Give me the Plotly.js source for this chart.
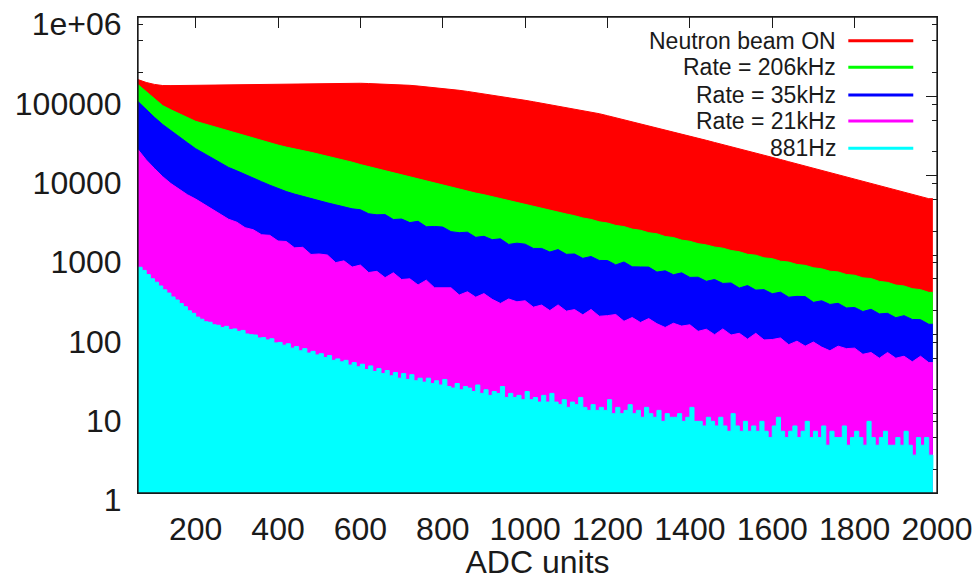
<!DOCTYPE html>
<html>
<head>
<meta charset="utf-8">
<script src="https://cdn.plot.ly/plotly-3.0.1.min.js"></script>
<style>html,body{margin:0;padding:0;background:#fff;}#chart{width:980px;height:580px;}</style>
</head>
<body>
<div id="chart"></div>
<script>
// ---- Data (histogram counts per ADC bin) ----
const seriesNames = ['Neutron beam ON', 'Rate = 206kHz', 'Rate = 35kHz', 'Rate = 21kHz', '881Hz'];
const seriesColors = ['#ff0000', '#00ff00', '#0000ff', '#ff00ff', '#00ffff'];

// coarse bins: start 60, width 20 (red, green, blue, magenta)
const coarseStart = 60, coarseWidth = 20;
// fine bins: start 60, width 10 (cyan)
const fineStart = 60, fineWidth = 10;
const dataEnd = 1990;

const beamOn = [162600,149600,141300,136800,136500,136900,136600,137000,137100,137700,
  138400,139000,139600,140300,140900,141600,142200,142900,143500,142600,
  143200,144200,144900,145500,146600,146900,146900,146200,144900,143900,
  142900,141600,140300,137700,134900,132100,129100,125900,122700,119100,
  115300,111400,107600,104000,100500,96600,92900,89100,85500,82000,
  78700,75300,71900,68900,65800,63000,60400,57000,53800,50700,
  47900,45100,42600,40100,37800,35600,33500,31500,29700,27900,
  26200,24700,23200,21800,20500,19200,18100,17000,16000,15000,
  14100,13200,12400,11700,11000,10300,9700,9120,8570,8050,
  7570,7110,6680,6270,5860,5480,5130];

const rate206k = [140600,114800,93300,76400,67600,60300,53700,48400,45200,42200,
  39400,36100,33900,31600,29500,27500,25700,24300,22900,21900,
  20900,19700,18600,17600,16600,15700,14800,13800,13000,12200,
  11500,10800,10200,9550,9020,8510,8040,7590,7160,6760,
  6380,6030,5750,5430,5130,4880,4580,4370,4100,3930,
  3650,3500,3290,3130,2930,2810,2620,2530,2360,2280,
  2120,2050,1910,1850,1710,1660,1540,1490,1390,1340,
  1260,1220,1140,1100,1020,995,920,900,835,815,
  760,740,690,670,625,612,568,556,515,505,
  465,452,418,407,376,366,338];

const rate35k = [85900,67600,54300,44100,36700,30900,26000,21900,19100,16600,
  14500,12700,11500,10300,9330,8410,7590,6840,6310,5860,
  5470,5130,4820,4540,4290,4050,3820,3720,3310,3210,
  3230,2800,2840,2560,2660,2270,2290,2250,1970,1910,
  1940,1670,1720,1560,1600,1360,1410,1370,1210,1210,
  1090,1170,1020,1030,907,958,854,851,750,817,
  709,707,704,609,632,564,596,522,525,466,
  491,438,444,383,412,361,366,325,340,294,
  301,299,253,265,238,246,215,218,194,207,
  181,184,162,172,154,153,134];

const rate21k = [21300,15800,12300,9710,7940,6760,5750,5070,4370,3800,
  3270,2820,2590,2210,2080,1800,1770,1500,1480,1230,
  1250,1015,1030,998,801,844,704,747,601,622,
  518,597,491,501,419,482,386,383,386,313,
  344,294,326,276,245,279,257,265,220,234,
  199,235,196,205,176,206,169,172,178,146,
  163,141,158,136,122,138,127,132,109,116,
  99,117,98,103,87,103,85,86,90,74,
  82,71,80,69,62,71,66,67,56,59,
  50,59,50,53,45,53,44];

const rate881 = [700,640,566,502,454,407,364,331,296,271,
  244,223,198,184,165,155,144,142,132,130,
  122,126,115,117,109,112,101,99,98,90,
  91,85,88,78,79,73,76,67,70,62,
  66,58,61,55,57,51,54,47,49,45,
  47,41,44,39,42,36,40,34,37,32,
  35,30,33,28,32,27,31,26,28,25,
  28,24,26,23,27,22,21,24,20,22,
  21,19,23,18,20,17,19,18,22,16,
  18,16,17,15,19,15,16,14,17,14,
  18,14,13,15,12,14,13,16,12,11,
  13,11,12,11,15,10,12,10,11,13,
  10,11,9,12,10,9,11,8,10,9,
  9,10,8,9,12,8,8,7,9,8,
  7,9,7,6,10,7,6,8,6,7,
  6,8,6,5,7,9,6,5,6,7,
  5,6,8,5,6,5,7,4,6,5,
  5,7,4,5,6,5,4,8,5,4,
  5,6,4,4,5,4,6,4,3,5,
  4,5,3,2];

const seriesValues = [beamOn, rate206k, rate35k, rate21k, rate881];
const seriesBinStart = [coarseStart, coarseStart, coarseStart, coarseStart, fineStart];
const seriesBinWidth = [coarseWidth, coarseWidth, coarseWidth, coarseWidth, fineWidth];
const seriesShape = ['linear', 'linear', 'linear', 'linear', 'hv'];

const xTickVals = [200, 400, 600, 800, 1000, 1200, 1400, 1600, 1800, 2000];
const yTickVals = [1, 10, 100, 1000, 10000, 100000, 1000000];
const yTickText = ['1', '10', '100', '1000', '10000', '100000', '1e+06'];
const yMinorVals = [2,5,8,20,50,80,200,500,800,2000,5000,8000,20000,50000,80000,200000,500000,800000];

// ---- Traces ----
const traces = seriesValues.map((vals, s) => {
  const x = vals.map((_, i) => seriesBinStart[s] + seriesBinWidth[s] * i);
  const y = vals.slice();
  x.push(dataEnd); y.push(vals[vals.length - 1]);
  return {
    type: 'scatter', mode: 'lines', name: seriesNames[s],
    x: x, y: y,
    line: {shape: seriesShape[s], color: seriesColors[s], width: 1},
    fill: 'tozeroy', fillcolor: seriesColors[s],
    hoverinfo: 'skip'
  };
});

// ---- Legend (gnuplot style: text right-aligned, sample line on the right) ----
const legTextX = 0.8765, legLineX0 = 0.889, legLineX1 = 0.9703;
const legY = [0.9502, 0.8943, 0.8361, 0.7815, 0.7242];
const textColor = '#1a1a1a';
const fontFamily = 'Liberation Sans, Arial, sans-serif';

const annotations = seriesNames.map((n, i) => ({
  xref: 'paper', yref: 'paper', x: legTextX, y: legY[i],
  xanchor: 'right', yanchor: 'middle', showarrow: false,
  text: n, font: {size: 23, color: textColor, family: fontFamily}
}));

const shapes = [{type: 'rect', xref: 'paper', yref: 'paper', x0: 0, x1: 1, y0: 0, y1: 1,
  line: {color: textColor, width: 1.3}, layer: 'above'}];
seriesNames.forEach((n, i) => shapes.push({type: 'line', xref: 'paper', yref: 'paper',
  x0: legLineX0, x1: legLineX1, y0: legY[i], y1: legY[i],
  line: {color: seriesColors[i], width: 3}, layer: 'above'}));

const layout = {
  width: 980, height: 580,
  margin: {l: 138, r: 43, t: 17, b: 87, pad: 0},
  paper_bgcolor: '#ffffff', plot_bgcolor: '#ffffff',
  showlegend: false,
  font: {family: fontFamily, color: textColor},
  xaxis: {
    range: [60, 2000], tickmode: 'array', tickvals: xTickVals,
    ticks: 'inside', ticklen: 11, tickwidth: 1, tickcolor: textColor,
    showline: true, linecolor: textColor, mirror: 'allticks',
    showgrid: false, zeroline: false, layer: 'below traces',
    tickfont: {size: 32, color: textColor}, ticklabelstandoff: 8,
    title: {text: 'ADC units', font: {size: 32, color: textColor}, standoff: 14}
  },
  yaxis: {
    type: 'log', range: [0, 6], tickmode: 'array', tickvals: yTickVals, ticktext: yTickText,
    ticks: 'inside', ticklen: 11, tickwidth: 1, tickcolor: textColor,
    showline: true, linecolor: textColor, mirror: 'allticks',
    showgrid: false, zeroline: false, layer: 'below traces',
    tickfont: {size: 32, color: textColor}, ticklabelstandoff: 9, ticklabelshift: 7,
    minor: {tickmode: 'array', tickvals: yMinorVals, ticks: 'inside', ticklen: 5, tickcolor: textColor, showgrid: false}
  },
  annotations: annotations,
  shapes: shapes
};

Plotly.newPlot('chart', traces, layout, {staticPlot: true, displayModeBar: false});
</script>
</body>
</html>
